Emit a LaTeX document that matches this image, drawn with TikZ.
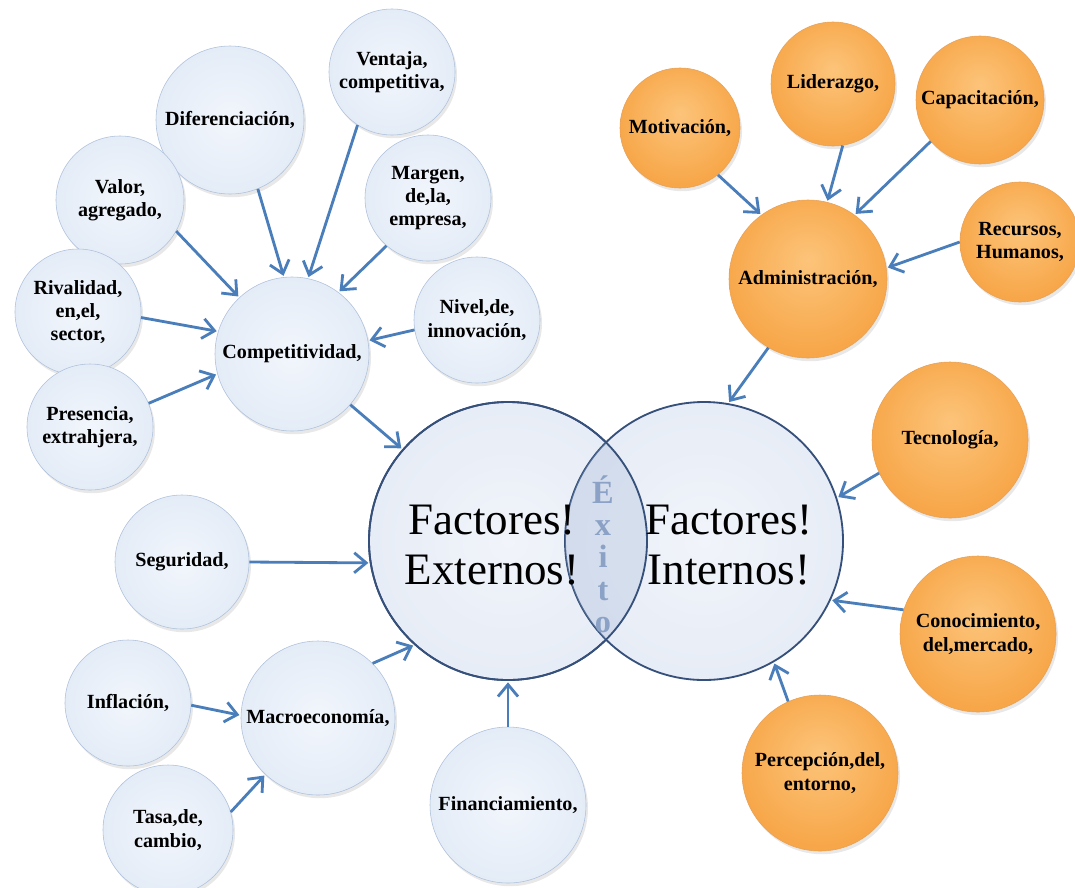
\documentclass[tikz,border=0pt]{standalone}
\usepackage{fontspec}
\setmainfont{Liberation Serif}
\usetikzlibrary{arrows.meta,shadows}

\definecolor{celeste}{HTML}{E1EAF6}
\definecolor{celesteluz}{HTML}{F2F6FC}
\definecolor{celesteborde}{HTML}{AFC1DB}
\definecolor{naranjaluz}{HTML}{FCC47A}
\definecolor{naranjamedio}{HTML}{F7A546}
\definecolor{naranjaborde}{HTML}{E2882C}
\definecolor{granluz}{HTML}{F1F4FA}
\definecolor{granmedio}{HTML}{E2E9F4}
\definecolor{granbrillo}{HTML}{F4F7FC}
\definecolor{granrim}{HTML}{A3B7D6}
\definecolor{granrimosc}{HTML}{8CA3C8}
\definecolor{granborde}{HTML}{35507A}
\definecolor{flechaazul}{HTML}{4A7EBB}
\definecolor{exitogris}{HTML}{8BA2C6}

% sombreados de las burbujas
\pgfdeclareradialshading{bolaceleste}{\pgfpoint{0bp}{0bp}}{color(0bp)=(celesteluz); color(30bp)=(celeste); color(45bp)=(celeste); color(50bp)=(celesteborde)}
\pgfdeclareradialshading{bolanaranja}{\pgfpoint{0bp}{6bp}}{color(0bp)=(naranjaluz); color(28bp)=(naranjamedio); color(44bp)=(naranjamedio); color(50bp)=(naranjaborde)}
\pgfdeclareradialshading{bolagrande}{\pgfpoint{0bp}{0bp}}{color(0bp)=(granluz); color(36bp)=(granmedio); color(41bp)=(granmedio); color(43bp)=(granbrillo); color(46.5bp)=(granrim); color(50bp)=(granrimosc)}

\newcommand\etiq{\bfseries\fontsize{14.3}{16.5}\selectfont}
\newcommand\grantexto{\fontsize{32}{35}\selectfont}
\newcommand\exitofuente{\bfseries\fontsize{23}{23}\selectfont}

\begin{document}
\begin{tikzpicture}[x=0.25mm, y=-0.25mm,
  bola/.style={circle, inner sep=0pt, align=center, font=\etiq,
    drop shadow={shadow xshift=0.5mm, shadow yshift=-0.8mm, opacity=0.18}},
  azul/.style={bola, shading=bolaceleste, draw=celesteborde, thin},
  naranja/.style={bola, shading=bolanaranja, draw=naranjaborde!80, thin},
  grande/.style={circle, inner sep=0pt, minimum size=69.5mm, shading=bolagrande, draw=granborde, line width=1.3pt},
  flecha/.style={draw=flechaazul, line width=2pt, shorten >=1pt,
    -{Straight Barb[length=3mm, width=5mm, line width=2pt]}}]
\fill[white] (0,0) rectangle (1075,887);
\useasboundingbox (0,0) rectangle (1075,887);

% factores externos e internos
\node[grande] (ext) at (508,541) {};
\node[grande] (int) at (704,541) {};
\begin{scope}
  \clip (ext.center) circle[radius=34.75mm];
  \fill[granrim, fill opacity=0.3] (int.center) circle[radius=34.75mm];
\end{scope}
\draw[granborde, line width=1.3pt] (ext.center) circle[radius=34.75mm];
\node[font=\grantexto, align=center] (exttexto) at (492,545) {Factores!\\Externos!};
\node[font=\grantexto, align=center] (inttexto) at (729,545) {Factores!\\Internos!};
\node[font=\exitofuente, text=exitogris, align=center] (exito) at (603,554) {É\\x\\i\\t\\o};

% competitividad
\node[azul, minimum size=38.5mm] (compet) at (292,354) {Competitividad,};
\node[azul, minimum size=31.5mm] (venta) at (392,72) {Ventaja,\\competitiva,};
\node[azul, minimum size=37mm] (difer) at (230,120) {Diferenciación,};
\node[azul, minimum size=32mm] (valor) at (120,200) {Valor,\\agregado,};
\node[azul, minimum size=31.5mm] (margen) at (428,198) {Margen,\\de,la,\\empresa,};
\node[azul, minimum size=31.5mm] (rival) at (78,312) {Rivalidad,\\en,el,\\sector,};
\node[azul, minimum size=31.5mm] (nivel) at (477,320) {Nivel,de,\\innovación,};
\node[azul, minimum size=31.5mm] (presen) at (90,427) {Presencia,\\extrahjera,};

% macroeconomia y demas
\node[azul, minimum size=33.5mm] (segur) at (182,562) {Seguridad,};
\node[azul, minimum size=38.5mm] (macro) at (318,718) {Macroeconomía,};
\node[azul, minimum size=31.5mm] (infla) at (128,703) {Inflación,};
\node[azul, minimum size=32.5mm] (tasa) at (168,830) {Tasa,de,\\cambio,};
\node[azul, minimum size=39mm] (finan) at (508,805) {Financiamiento,};

% administracion
\node[naranja, minimum size=39.5mm] (admin) at (808,279) {Administración,};
\node[naranja, minimum size=30mm] (motiv) at (680,128) {Motivación,};
\node[naranja, minimum size=31mm] (lider) at (833,84) {Liderazgo,};
\node[naranja, minimum size=32mm] (capac) at (980,100) {Capacitación,};
\node[naranja, minimum size=30mm] (recur) at (1020,242) {Recursos,\\Humanos,};
\node[naranja, minimum size=39mm] (tecno) at (950,440) {Tecnología,};
\node[naranja, minimum size=39mm] (conoc) at (978,634) {Conocimiento,\\del,mercado,};
\node[naranja, minimum size=39mm] (perce) at (820,773) {Percepción,del,\\entorno,};

% flechas
\draw[flecha] (valor.-29) -- (compet.133);
\draw[flecha] (difer.-68) -- (compet.96);
\draw[flecha] (venta.-123) -- (compet.78);
\draw[flecha] (margen.-131) -- (compet.53);
\draw[flecha] (rival.-5) -- (compet.163);
\draw[flecha] (nivel.-171) -- (compet.10);
\draw[flecha] (presen.22) -- (compet.-165);
\draw[flecha] (compet.-41) -- (ext.139);
\draw[flecha] (segur.east) -- (ext.189);
\draw[flecha] (infla.-2) -- (macro.178);
\draw[flecha] (tasa.16) -- (macro.-133);
\draw[flecha] (macro.45) -- (ext.-132);
\draw[flecha] (finan.north) -- (ext.south);
\draw[flecha] (motiv.-51) -- (admin.126);
\draw[flecha] (lider.-81) -- (admin.76);
\draw[flecha] (capac.-140) -- (admin.54);
\draw[flecha] (recur.180) -- (admin.8);
\draw[flecha] (admin.-120) -- (int.80);
\draw[flecha] (tecno.-155) -- (int.18);
\draw[flecha] (conoc.162) -- (int.-25);
\draw[flecha] (perce.114) -- (int.-60);
\end{tikzpicture}
\end{document}
